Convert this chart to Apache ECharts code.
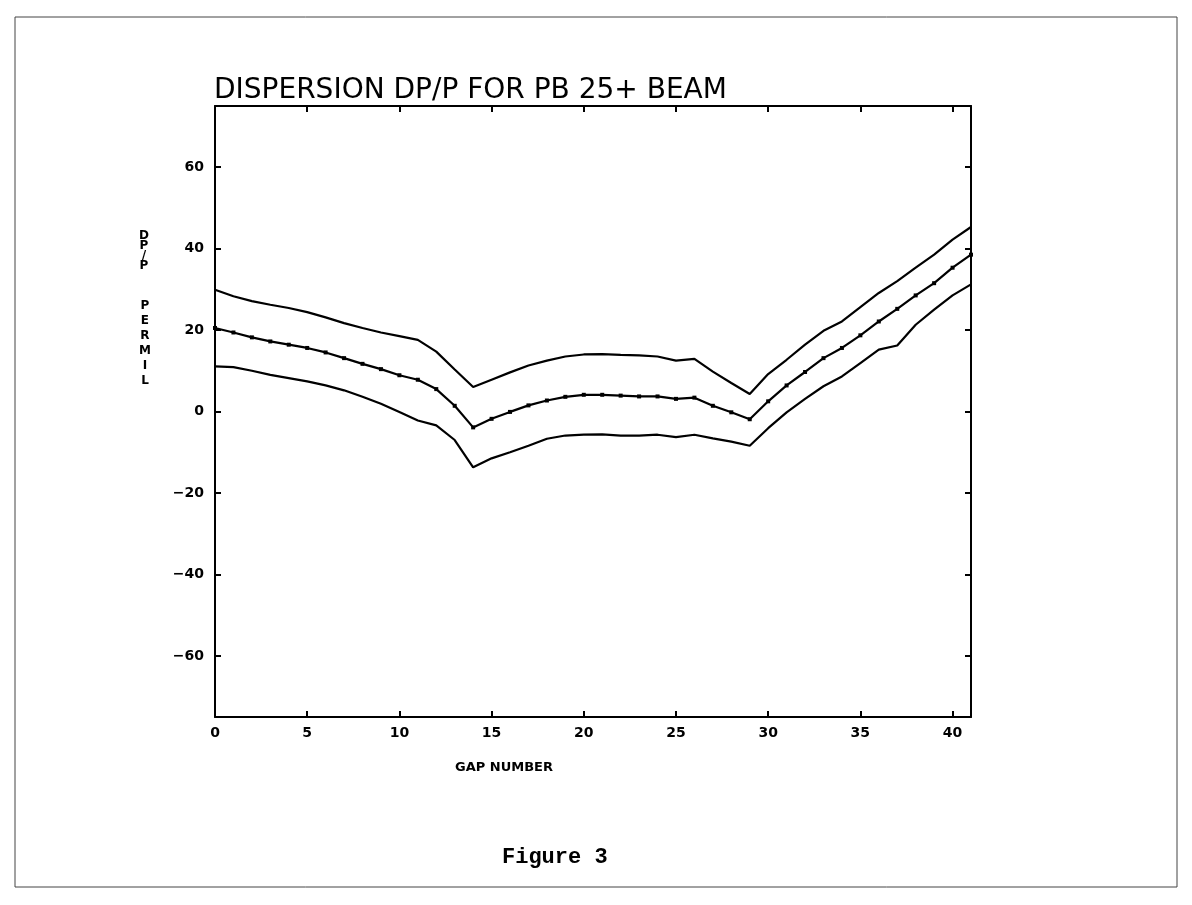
<!DOCTYPE html>
<html>
<head>
<meta charset="utf-8">
<script src="https://cdn.jsdelivr.net/npm/echarts@6/dist/echarts.min.js"></script>
<style>
  html, body { margin: 0; padding: 0; background: #fff; }
  #main { width: 1192px; height: 905px; }
</style>
</head>
<body>
<div id="main"></div>
<script>
// gap number along the linac
var gapNumbers = [0, 1, 2, 3, 4, 5, 6, 7, 8, 9, 10, 11, 12, 13, 14, 15, 16, 17, 18, 19, 20,
                  21, 22, 23, 24, 25, 26, 27, 28, 29, 30, 31, 32, 33, 34, 35, 36, 37, 38, 39, 40, 41];
// dp/p in permil
var upperBand = [29.9, 28.3, 27.1, 26.2, 25.4, 24.4, 23.1, 21.7, 20.5, 19.4, 18.5,
                 17.6, 14.7, 10.3, 6.0, 7.8, 9.6, 11.3, 12.5, 13.5, 14.0,
                 14.1, 13.9, 13.8, 13.5, 12.5, 12.9, 9.8, 7.0, 4.3, 9.2,
                 12.7, 16.4, 19.8, 22.1, 25.6, 29.1, 32.0, 35.3, 38.5, 42.2, 45.3];
var meanDisp = [20.5, 19.4, 18.2, 17.2, 16.4, 15.6, 14.5, 13.1, 11.7, 10.4, 8.9,
                7.8, 5.5, 1.4, -3.9, -1.8, -0.1, 1.5, 2.7, 3.6, 4.1,
                4.1, 3.9, 3.7, 3.7, 3.1, 3.4, 1.4, -0.2, -1.9, 2.5,
                6.4, 9.7, 13.1, 15.6, 18.7, 22.1, 25.2, 28.5, 31.5, 35.3, 38.5];
var lowerBand = [11.1, 10.9, 10.0, 9.0, 8.2, 7.4, 6.4, 5.2, 3.6, 1.9, -0.1,
                 -2.2, -3.4, -7.0, -13.7, -11.5, -10.0, -8.4, -6.7, -5.9, -5.7,
                 -5.6, -5.9, -5.9, -5.7, -6.3, -5.7, -6.6, -7.4, -8.4, -4.1,
                 -0.2, 3.1, 6.2, 8.6, 11.9, 15.2, 16.2, 21.3, 25.0, 28.5, 31.2];
var xTicks = [0, 5, 10, 15, 20, 25, 30, 35, 40];
var yTicks = [-60, -40, -20, 0, 20, 40, 60];

function pairs(ys) {
  return gapNumbers.map(function (g, i) { return [g, ys[i]]; });
}

var chart = echarts.init(document.getElementById('main'), null, { renderer: 'canvas' });

var lineStyle = { color: '#000', width: 2.2 };
var axisLine = { show: true, onZero: false, lineStyle: { color: '#000', width: 2 } };
var labelFont = { color: '#000', fontFamily: 'DejaVu Sans', fontWeight: 'bold', fontSize: 14 };

var option = {
  backgroundColor: '#fff',
  animation: false,
  title: {
    text: 'DISPERSION DP/P FOR PB 25+ BEAM',
    left: 214,
    top: 77,
    padding: 0,
    textStyle: { color: '#000', fontFamily: 'DejaVu Sans', fontWeight: 'normal', fontSize: 28 }
  },
  grid: { left: 215, top: 106, right: 221, bottom: 188, containLabel: false, outerBoundsMode: 'none' },
  xAxis: [{
    type: 'value', min: 0, max: 41,
    axisLine: axisLine,
    axisTick: { inside: true, length: 6, customValues: xTicks, lineStyle: { color: '#000', width: 2 } },
    axisLabel: Object.assign({ customValues: xTicks, margin: 9 }, labelFont),
    splitLine: { show: false }
  }, {
    type: 'value', min: 0, max: 41, position: 'top',
    axisLine: axisLine,
    axisTick: { inside: true, length: 6, customValues: xTicks, lineStyle: { color: '#000', width: 2 } },
    axisLabel: { show: false },
    splitLine: { show: false }
  }],
  yAxis: [{
    type: 'value', min: -75, max: 75,
    axisLine: axisLine,
    axisTick: { inside: true, length: 6, customValues: yTicks, lineStyle: { color: '#000', width: 2 } },
    axisLabel: Object.assign({
      customValues: yTicks, margin: 11,
      formatter: function (v) { return v < 0 ? '\u2212' + Math.abs(v) : String(v); }
    }, labelFont),
    splitLine: { show: false }
  }, {
    type: 'value', min: -75, max: 75, position: 'right',
    axisLine: axisLine,
    axisTick: { inside: true, length: 6, customValues: yTicks, lineStyle: { color: '#000', width: 2 } },
    axisLabel: { show: false },
    splitLine: { show: false }
  }],
  series: [{
    name: 'upper', type: 'line', data: pairs(upperBand),
    showSymbol: false, lineStyle: lineStyle
  }, {
    name: 'mean', type: 'line', data: pairs(meanDisp),
    symbol: 'rect', symbolSize: 4, showSymbol: true,
    itemStyle: { color: '#000' }, lineStyle: lineStyle
  }, {
    name: 'lower', type: 'line', data: pairs(lowerBand),
    showSymbol: false, lineStyle: lineStyle
  }],
  graphic: [{
    type: 'text', left: 139, top: 230,
    style: { text: 'D\nP\n/\nP', fill: '#000', font: 'bold 12px "DejaVu Sans"', lineHeight: 10, textAlign: 'center' }
  }, {
    type: 'text', left: 139, top: 298,
    style: { text: 'P\nE\nR\nM\nI\nL', fill: '#000', font: 'bold 12px "DejaVu Sans"', lineHeight: 15, textAlign: 'center' }
  }, {
    type: 'text', left: 455, top: 761,
    style: { text: 'GAP NUMBER', fill: '#000', font: 'bold 13px "DejaVu Sans"' }
  }, {
    type: 'text', left: 502, top: 846,
    style: { text: 'Figure 3', fill: '#000', font: 'bold 22px "Liberation Mono"' }
  }, {
    type: 'rect', shape: { x: 15, y: 17, width: 1162, height: 870 },
    style: { fill: 'none', stroke: '#444', lineWidth: 1 }, silent: true
  }]
};

chart.setOption(option);
</script>
</body>
</html>
